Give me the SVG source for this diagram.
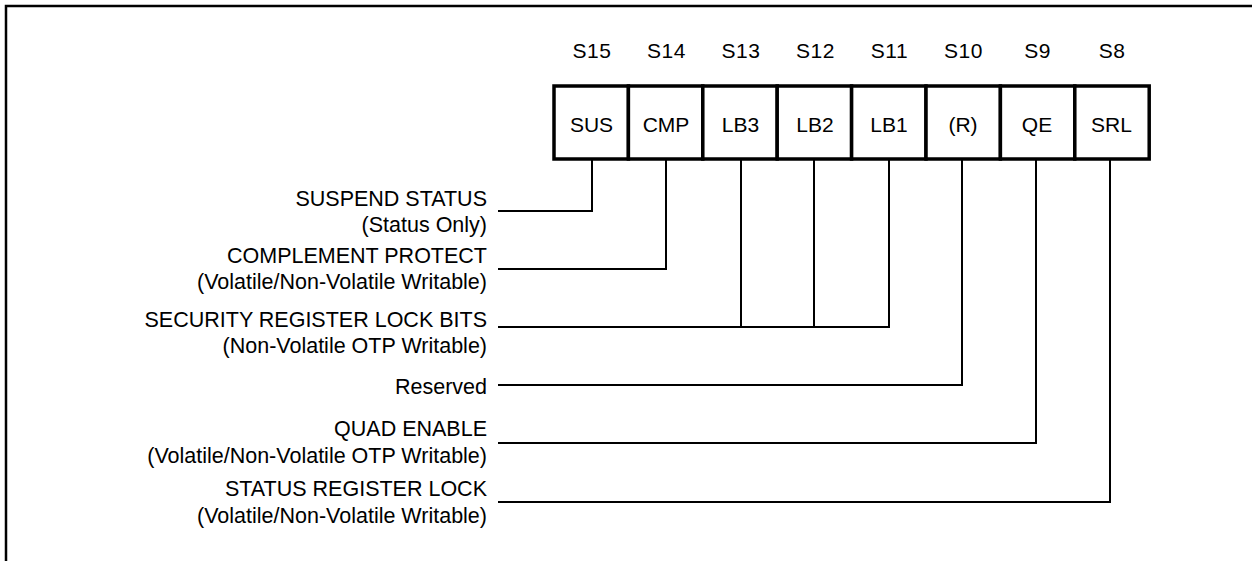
<svg xmlns="http://www.w3.org/2000/svg" width="1252" height="561" viewBox="0 0 1252 561">
<style>
.frame{fill:none;stroke:#000;stroke-width:2.5}
.box{fill:#fff;stroke:#000;stroke-width:3.5}
.bt{font-family:"Liberation Sans",Arial,sans-serif;font-size:21px;fill:#000;text-anchor:middle}
.st{font-family:"Liberation Sans",Arial,sans-serif;font-size:21px;fill:#000;text-anchor:middle;letter-spacing:0.5px}
.lb{font-family:"Liberation Sans",Arial,sans-serif;font-size:21.5px;fill:#000;text-anchor:end}
.cn{fill:none;stroke:#000;stroke-width:2}
</style>
<rect width="1252" height="561" fill="#fff"/>
<path class="frame" d="M6,561 V6 H1252"/>
<g id="bits">
<g id="s15"><text class="st" x="592" y="58">S15</text><rect class="box" x="554" y="86" width="74.4" height="73"/><text class="bt" x="591.5" y="132">SUS</text></g>
<g id="s14"><text class="st" x="666.5" y="58">S14</text><rect class="box" x="628.4" y="86" width="74.4" height="73"/><text class="bt" x="666" y="132">CMP</text></g>
<g id="s13"><text class="st" x="741" y="58">S13</text><rect class="box" x="702.8" y="86" width="74.4" height="73"/><text class="bt" x="740.5" y="132">LB3</text></g>
<g id="s12"><text class="st" x="815.5" y="58">S12</text><rect class="box" x="777.2" y="86" width="74.4" height="73"/><text class="bt" x="815" y="132">LB2</text></g>
<g id="s11"><text class="st" x="889.5" y="58">S11</text><rect class="box" x="851.6" y="86" width="74.4" height="73"/><text class="bt" x="889" y="132">LB1</text></g>
<g id="s10"><text class="st" x="963.5" y="58">S10</text><rect class="box" x="926" y="86" width="74.4" height="73"/><text class="bt" x="963" y="132">(R)</text></g>
<g id="s9"><text class="st" x="1037.5" y="58">S9</text><rect class="box" x="1000.4" y="86" width="74.4" height="73"/><text class="bt" x="1037" y="132">QE</text></g>
<g id="s8"><text class="st" x="1112" y="58">S8</text><rect class="box" x="1074.8" y="86" width="74.4" height="73"/><text class="bt" x="1111.5" y="132">SRL</text></g>
</g>
<g id="labels">
<g id="lbl-sus"><text class="lb" x="487" y="206">SUSPEND STATUS</text><text class="lb" x="487" y="232">(Status Only)</text></g>
<g id="lbl-cmp"><text class="lb" x="487" y="263">COMPLEMENT PROTECT</text><text class="lb" x="487" y="289">(Volatile/Non-Volatile Writable)</text></g>
<g id="lbl-lb"><text class="lb" x="487" y="327">SECURITY REGISTER LOCK BITS</text><text class="lb" x="487" y="353">(Non-Volatile OTP Writable)</text></g>
<g id="lbl-r"><text class="lb" x="487" y="394">Reserved</text></g>
<g id="lbl-qe"><text class="lb" x="487" y="436">QUAD ENABLE</text><text class="lb" x="487" y="463">(Volatile/Non-Volatile OTP Writable)</text></g>
<g id="lbl-srl"><text class="lb" x="487" y="496">STATUS REGISTER LOCK</text><text class="lb" x="487" y="523">(Volatile/Non-Volatile Writable)</text></g>
</g>
<g id="connectors">
<path class="cn" d="M498,211 H592 V160"/>
<path class="cn" d="M498,269 H666 V160"/>
<path class="cn" d="M498,327 H889 V160 M741,327 V160 M814,327 V160"/>
<path class="cn" d="M498,385 H962 V160"/>
<path class="cn" d="M498,443 H1036 V160"/>
<path class="cn" d="M498,502 H1110 V160"/>
</g>
</svg>
